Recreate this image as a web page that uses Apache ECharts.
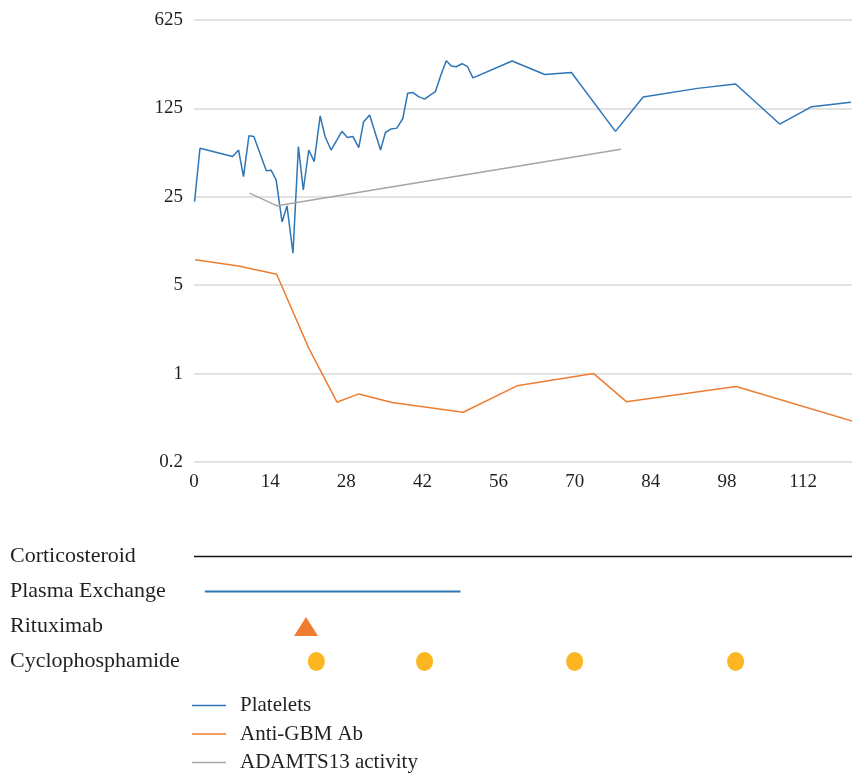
<!DOCTYPE html>
<html>
<head>
<meta charset="utf-8">
<title>Platelets / Anti-GBM Ab / ADAMTS13</title>
<script src="https://cdn.jsdelivr.net/npm/echarts@6/dist/echarts.min.js"></script>
<style>
html,body{margin:0;padding:0;background:#fff;}
#chart{width:852px;height:775px;}
</style>
</head>
<body>
<div id="chart"></div>
<script>
// x = day, y = value (log5 axis)
var platelets = [
	[0.1,22.9],[1.1,60.5],[7.1,52.1],[8.2,58.6],[9.1,36.1],[10.1,75.9],[11.0,75],[13.3,40.1],
	[14.2,40.5],[15.1,34.0],[16.2,15.8],[17.1,21.2],[18.2,8.95],[19.2,62.4],[20.1,28.3],[21.1,58.6],
	[22.1,47.4],[23.2,109],[24.1,75],[25.2,58.6],[27.2,82.3],[28.2,73.5],[29.2,75],[30.3,61.3],
	[31.2,98.1],[32.3,111],[34.3,58.6],[35.2,80.6],[36.2,85.8],[37.3,87.3],[38.4,104],[39.3,165],
	[40.2,167],[41.3,155],[42.4,148],[43.5,160],[44.4,170],[45.4,230],[46.4,298],[47.3,271],
	[48.2,267],[49.3,282],[50.3,267],[51.3,218],[58.5,296],[64.5,232],[69.4,240],[77.5,82.3],
	[82.6,154],[92.6,180],[99.6,195],[107.7,94],[113.6,129],[120.8,140]
];
var antiGbm = [
	[0.2,7.93],[8.2,7.1],[15.2,6.1],[21.1,1.59],[26.3,0.594],[30.3,0.691],[36.4,0.59],[49.5,0.495],
	[59.4,0.80],[73.5,1.0],[79.5,0.60],[99.7,0.79],[121.2,0.42]
];
var adamts13 = [[10.2,26.7],[15.3,21.2],[78.5,59.5]];

var seriesNames = ['Platelets','Anti-GBM Ab','ADAMTS13 activity'];
var seriesColors = ['#2E75B6','#ED7D31','#A5A5A5'];

// treatment rows
var treatments = ['Corticosteroid','Plasma Exchange','Rituximab','Cyclophosphamide'];
var corticosteroidDays = [0,121];
var plasmaExchangeDays = [2,49];
var rituximabDays = [20.6];
var cyclophosphamideDays = [22.5,42.4,70,99.6];

var dayMax = 121;
var dayInterval = 14;

var fontFamily = "'Liberation Serif','DejaVu Serif',serif";
var textColor = '#231F20';

function rowData(days,name){
	var out = [];
	for(var i=0;i<days.length;i++)
		out.push([days[i],name]);
	return out;
}

var myChart = echarts.init(document.getElementById('chart'));
var option = {
	backgroundColor:'#fff',
	animation:false,
	textStyle:{fontFamily:fontFamily,color:textColor},
	grid:[
		{left:194,right:0,top:20,height:442},
		{left:194,right:0,top:539,height:140}
	],
	legend:{
		data:seriesNames,
		orient:'vertical',
		left:192,
		top:695,
		padding:0,
		icon:'rect',
		itemWidth:34,
		itemHeight:1.5,
		itemGap:7.5,
		textStyle:{fontFamily:fontFamily,fontSize:21,lineHeight:20,color:textColor,padding:[0,0,0,9]}
	},
	xAxis:[
		{
			type:'value',gridIndex:0,min:0,max:dayMax,interval:dayInterval,
			axisLine:{show:false},axisTick:{show:false},splitLine:{show:false},
			axisLabel:{fontSize:19,color:textColor,fontFamily:fontFamily,margin:11,showMaxLabel:false}
		},
		{
			type:'value',gridIndex:1,min:0,max:dayMax,show:false,splitLine:{show:false}
		}
	],
	yAxis:[
		{
			type:'log',gridIndex:0,logBase:5,min:0.2,max:625,splitNumber:5,
			axisLine:{show:false},axisTick:{show:false},
			splitLine:{lineStyle:{color:'#D9D9D9',width:1.5}},
			axisLabel:{fontSize:19,color:textColor,fontFamily:fontFamily,margin:11}
		},
		{
			type:'category',gridIndex:1,data:treatments,inverse:true,
			axisLine:{show:false},axisTick:{show:false},splitLine:{show:false},
			axisLabel:{fontSize:22,color:textColor,fontFamily:fontFamily,align:'left',margin:184}
		}
	],
	series:[
		{name:seriesNames[0],type:'line',xAxisIndex:0,yAxisIndex:0,data:platelets,symbol:'none',
			lineStyle:{color:seriesColors[0],width:1.5},itemStyle:{color:seriesColors[0]}},
		{name:seriesNames[1],type:'line',xAxisIndex:0,yAxisIndex:0,data:antiGbm,symbol:'none',
			lineStyle:{color:seriesColors[1],width:1.5},itemStyle:{color:seriesColors[1]}},
		{name:seriesNames[2],type:'line',xAxisIndex:0,yAxisIndex:0,data:adamts13,symbol:'none',
			lineStyle:{color:seriesColors[2],width:1.5},itemStyle:{color:seriesColors[2]}},
		// treatment timeline
		{type:'line',xAxisIndex:1,yAxisIndex:1,data:rowData(corticosteroidDays,treatments[0]),symbol:'none',
			lineStyle:{color:'#111',width:1.5}},
		{type:'line',xAxisIndex:1,yAxisIndex:1,data:rowData(plasmaExchangeDays,treatments[1]),symbol:'none',
			lineStyle:{color:'#2E75B6',width:2}},
		{type:'scatter',xAxisIndex:1,yAxisIndex:1,data:rowData(rituximabDays,treatments[2]),symbol:'triangle',
			symbolSize:[24,19],itemStyle:{color:'#F07C30',opacity:1}},
		{type:'scatter',xAxisIndex:1,yAxisIndex:1,data:rowData(cyclophosphamideDays,treatments[3]),symbol:'circle',
			symbolSize:[17,19],itemStyle:{color:'#FBB621',opacity:1}}
	]
};
myChart.setOption(option);
</script>
</body>
</html>
